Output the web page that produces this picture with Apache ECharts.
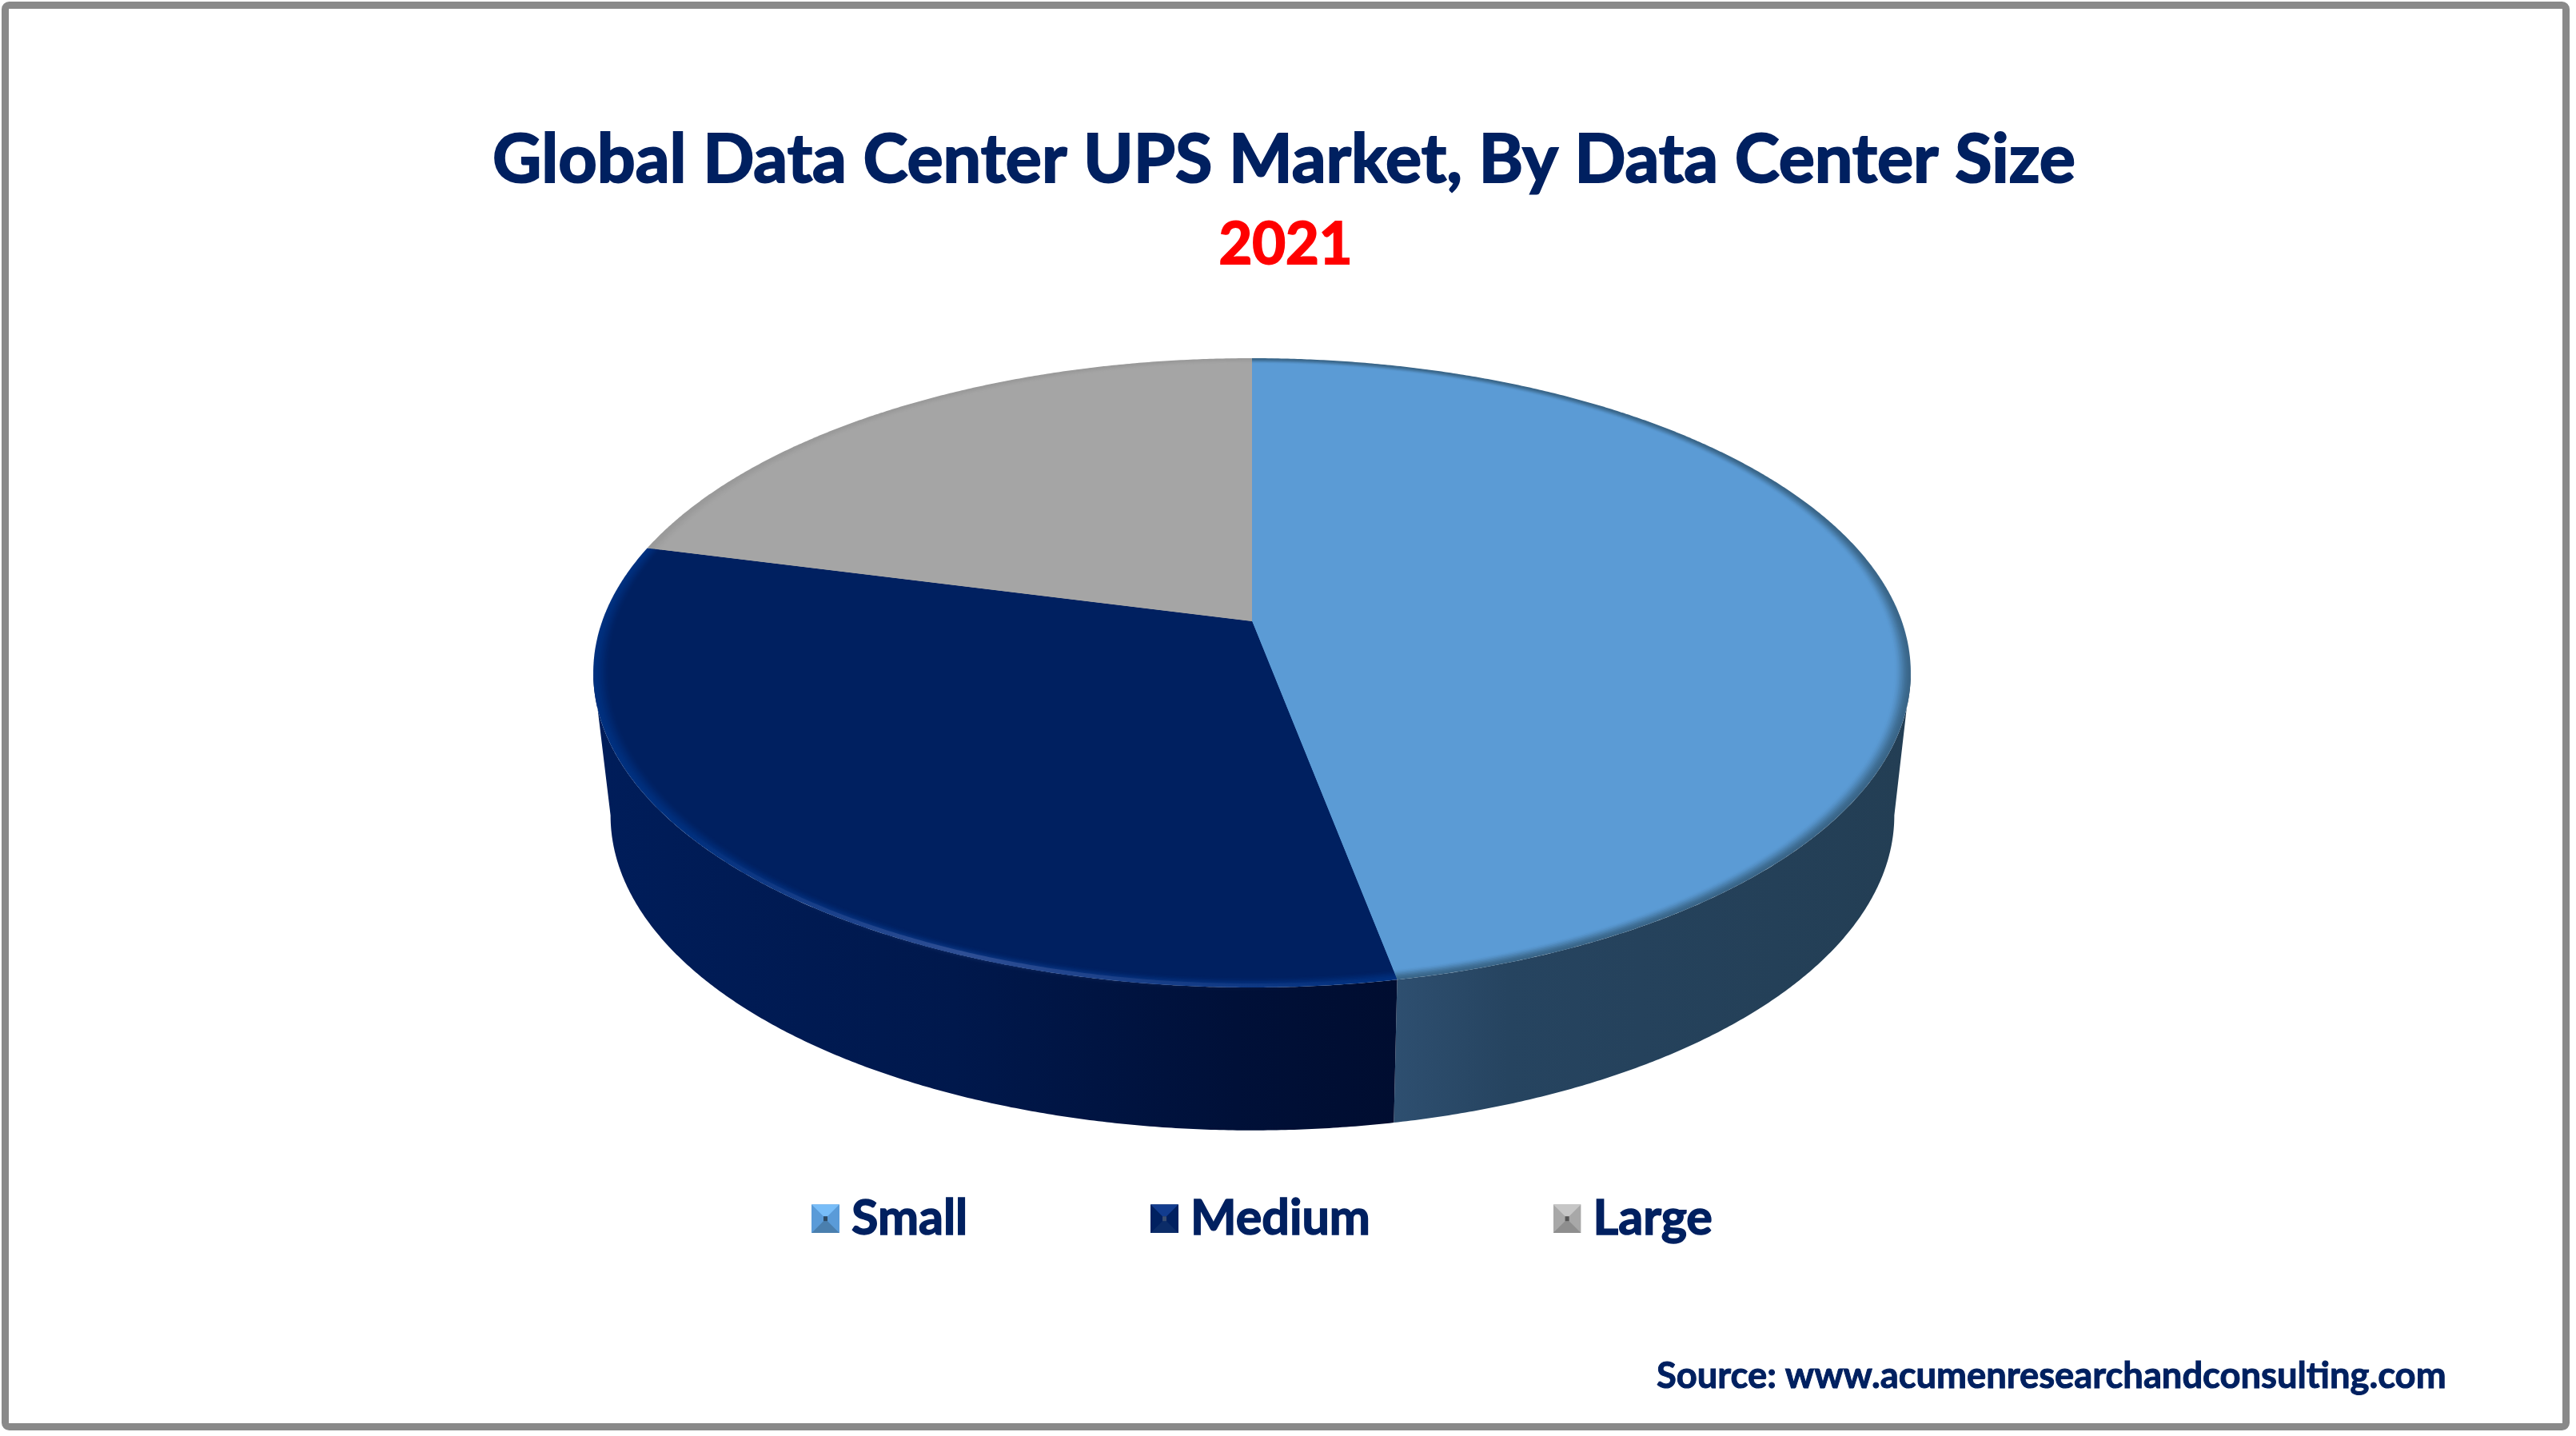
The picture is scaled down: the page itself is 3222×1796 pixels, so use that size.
<!DOCTYPE html>
<html>
<head>
<meta charset="utf-8">
<style>html,body{margin:0;padding:0;background:#fff}#c{width:3222px;height:1796px}</style>
<script src="https://cdn.jsdelivr.net/npm/echarts@6/dist/echarts.min.js"></script>
</head>
<body>
<div id="c"></div>
<script>
const categories = ['Small', 'Medium', 'Large'];
const shares = [47, 32, 21];
const titleText = 'Global Data Center UPS Market, By Data Center Size';
const yearText = '2021';
const sourceText = 'Source: www.acumenresearchandconsulting.com';

const topColors = ['#5B9BD5', '#002060', '#A5A5A5'];
const rimColors = ['#3A6689', '#00307F', '#9A9A9A'];
const wallStops = [
  [[0, '#2E4F70'], [0.22, '#264460'], [1, '#233E54']],
  [[0, '#001D5A'], [0.45, '#00184C'], [0.8, '#001038'], [1, '#000D30']],
  [[0, '#7C7C7C'], [1, '#7C7C7C']]
];
const iconColors = [
  ['#78BDF8', '#5A9BD8', '#4A7FAE', '#2E4A63'],
  ['#123C8E', '#002060', '#0B2C68', '#3A4D70'],
  ['#C6C6C6', '#A8A8A8', '#8E8E8E', '#555555']
];

const TILT = 0.1639;
const topDisc = { cx: 1566, ay: 777, a: 812.8, b: 382.9 };
const baseDisc = { cx: 1566.5, ay: 955.3, a: 792, b: 383.3 };

function project(disc, deg, r) {
  const t = deg * Math.PI / 180;
  const den = 1 + TILT * r * Math.cos(t);
  return [disc.cx + disc.a * r * Math.sin(t) / den, disc.ay - disc.b * r * Math.cos(t) / den];
}
function arc(disc, from, to, r) {
  const n = Math.max(2, Math.ceil(Math.abs(to - from) * 3));
  const pts = [];
  for (let i = 0; i <= n; i++) pts.push(project(disc, from + (to - from) * i / n, r));
  return pts;
}
const total = shares.reduce((a, b) => a + b, 0);
function startAngle(idx) {
  let s = 0;
  for (let i = 0; i < idx; i++) s += shares[i];
  return s / total * 360;
}
const wallFrom = 90 + Math.asin(TILT) * 180 / Math.PI;
const wallTo = 360 - wallFrom;

function renderSlice(idx) {
  return function (params, api) {
    const from = startAngle(idx);
    const to = from + api.value(0) / total * 360;
    const children = [];
    const wf = Math.max(from, wallFrom), wt = Math.min(to, wallTo);
    if (wt > wf) {
      const pts = arc(topDisc, wf, wt, 1).concat(arc(baseDisc, wt, wf, 1));
      const xs = pts.map(p => p[0]);
      children.push({
        type: 'polygon', z2: 1, shape: { points: pts },
        style: {
          fill: {
            type: 'linear', global: true,
            x: Math.min(...xs), y: 0, x2: Math.max(...xs), y2: 0,
            colorStops: wallStops[idx].map(s => ({ offset: s[0], color: s[1] }))
          }
        }
      });
    }
    const steps = 10, depth = 0.024;
    for (let i = 0; i <= steps; i++) {
      const f = i / steps;
      const r = 1 - depth * f;
      const pts = [project(topDisc, from, 0)].concat(arc(topDisc, from, to, r));
      children.push({
        type: 'polygon', z2: 10 + i, shape: { points: pts },
        style: { fill: echarts.color.lerp(f * f * (3 - 2 * f), [rimColors[idx], topColors[idx]]) }
      });
    }
    if (idx === 1) {
      children.push({
        type: 'polyline', z2: 40, shape: { points: arc(topDisc, from + 2, to - 45, 0.9955) },
        style: {
          fill: 'none', lineWidth: 5,
          stroke: {
            type: 'linear', global: true, x: 860, y: 0, x2: 1720, y2: 0,
            colorStops: [
              { offset: 0, color: 'rgba(42,74,144,0)' },
              { offset: 0.4, color: 'rgba(48,80,150,0.95)' },
              { offset: 0.65, color: 'rgba(42,74,144,0.5)' },
              { offset: 1, color: 'rgba(42,74,144,0)' }
            ]
          },
          shadowBlur: 5, shadowColor: 'rgba(42,74,144,0.6)'
        }
      });
    }
    return { type: 'group', children: children };
  };
}

function bevelIcon(c) {
  const svg = '<svg xmlns="http://www.w3.org/2000/svg" width="35" height="36" viewBox="0 0 35 36">'
    + '<rect width="35" height="36" fill="' + c[1] + '"/>'
    + '<polygon points="0,0 35,0 20,15 15,15" fill="' + c[0] + '"/>'
    + '<polygon points="0,36 35,36 20,21 15,21" fill="' + c[2] + '"/>'
    + '<rect x="15" y="15" width="5" height="6" fill="' + c[3] + '"/></svg>';
  return 'image://data:image/svg+xml;charset=utf-8,' + encodeURIComponent(svg);
}

const chart = echarts.init(document.getElementById('c'), null, { renderer: 'canvas' });
chart.setOption({
  animation: false,
  backgroundColor: '#ffffff',
  title: [
    { text: titleText, left: 1601, top: 153, textAlign: 'center',
      textStyle: { fontFamily: 'Lato', fontWeight: 'bold', fontSize: 84.5, color: '#002060', textBorderColor: '#002060', textBorderWidth: 2 } },
    { text: yearText, left: 1603, top: 266, textAlign: 'center',
      textStyle: { fontFamily: 'Lato', fontWeight: 'bold', fontSize: 72, color: '#FF0000', textBorderColor: '#FF0000', textBorderWidth: 2 } },
    { text: sourceText, left: 2067, top: 1694,
      textStyle: { fontFamily: 'Lato', fontWeight: 'bold', fontSize: 45.3, color: '#002060', textBorderColor: '#002060', textBorderWidth: 1 } }
  ],
  legend: {
    left: 1015, top: 1493, padding: 0, orient: 'horizontal',
    itemWidth: 35, itemHeight: 36, itemGap: 228,
    textStyle: { fontFamily: 'Lato', fontWeight: 'bold', fontSize: 61, color: '#002060', padding: [0, 0, 0, 10], textBorderColor: '#002060', textBorderWidth: 1.5 },
    selectedMode: false,
    data: categories.map((name, i) => ({ name: name, icon: bevelIcon(iconColors[i]) }))
  },
  graphic: [{
    type: 'rect', silent: true,
    shape: { x: 6.5, y: 6.5, width: 3203, height: 1778, r: 5 },
    style: { fill: 'none', stroke: '#898989', lineWidth: 9 }
  }],
  series: categories.map((name, i) => ({
    type: 'custom', name: name, coordinateSystem: 'none',
    itemStyle: { color: topColors[i] },
    renderItem: renderSlice(i),
    data: [[shares[i]]]
  }))
});
</script>
</body>
</html>
